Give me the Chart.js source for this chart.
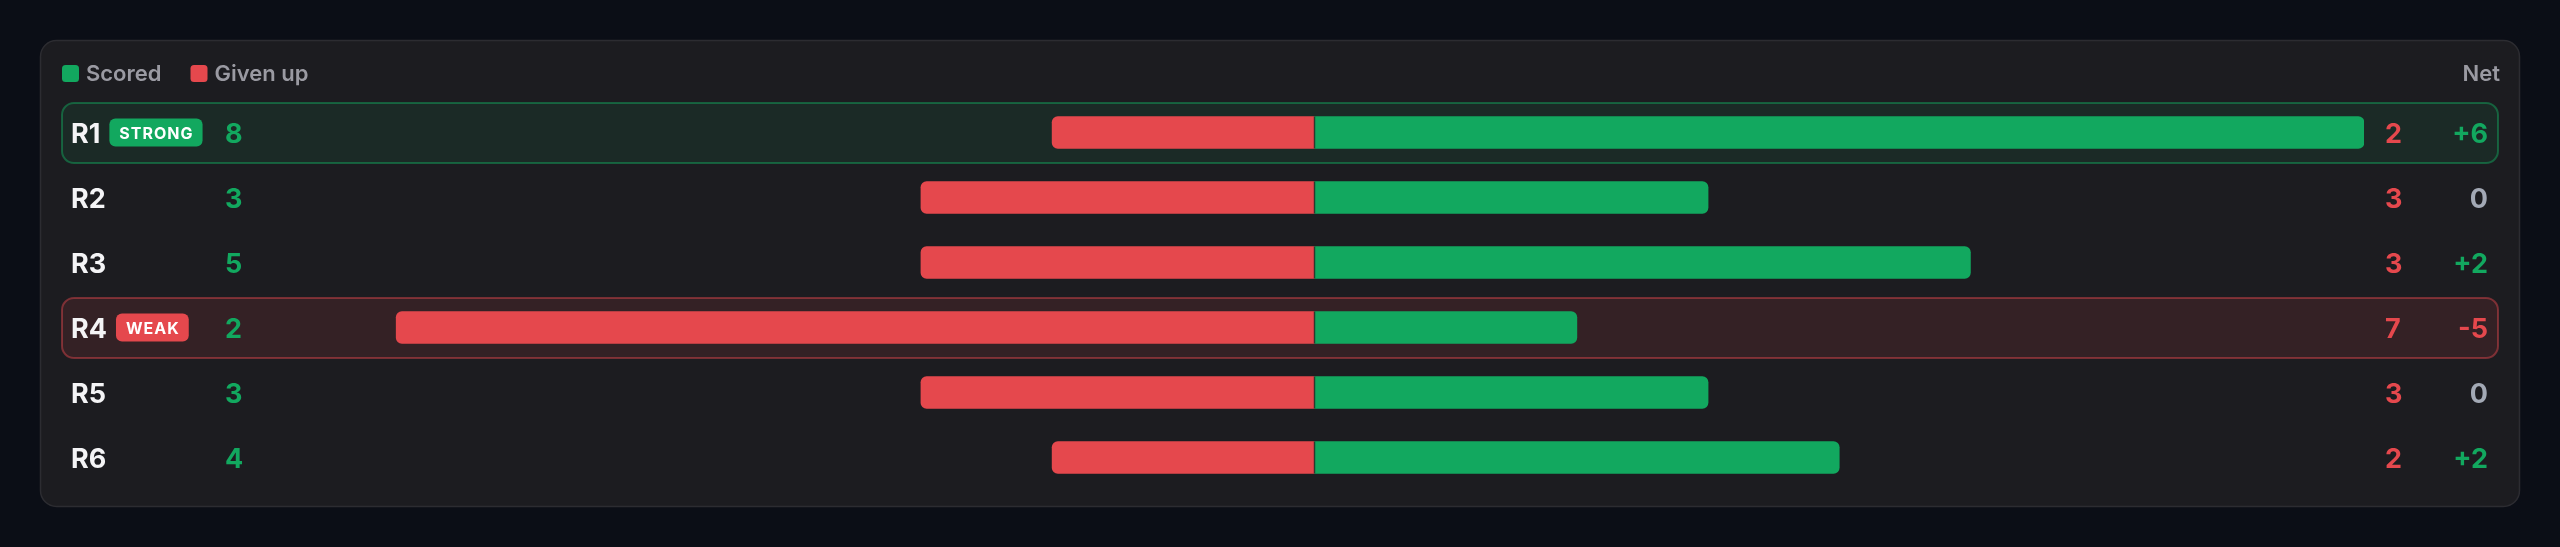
<!DOCTYPE html>
<html><head><meta charset="utf-8">
<script src="https://cdn.jsdelivr.net/npm/chart.js@4.4.1/dist/chart.umd.min.js"></script>
<style>
html,body{margin:0;padding:0;background:#0b0e16;overflow:hidden}
#wrap{width:2560px;height:547px;position:relative}
canvas{display:block}
</style>
</head><body>
<div id="wrap"><canvas id="c" width="2560" height="547"></canvas></div>
<script>
// ---- data ----
const categories = ['R1', 'R2', 'R3', 'R4', 'R5', 'R6'];
const scored = [8, 3, 5, 2, 3, 4];
const givenUp = [2, 3, 3, 7, 3, 2];
const badges = ['STRONG', '', '', 'WEAK', '', ''];
const legendLabels = ['Scored', 'Given up'];
const netHeader = 'Net';

// ---- style ----
const GREEN = '#12a85f';
const RED = '#e5484d';
const GRAY = '#9a9aa2';
const NEUTRAL = '#a3a9b5';
const WHITE = '#f4f4f6';
const FONT = 'Inter, "Noto Sans", sans-serif';

const net = scored.map((s, i) => s - givenUp[i]);
const maxVal = Math.max(...scored, ...givenUp);

function rr(ctx, x, y, w, h, r) {
  ctx.beginPath();
  ctx.roundRect(x, y, w, h, r);
}

const chromePlugin = {
  id: 'chrome',
  beforeDraw(chart) {
    const ctx = chart.ctx;
    const W = chart.width, H = chart.height;
    ctx.save();
    ctx.fillStyle = '#0b0e16';
    ctx.fillRect(0, 0, W, H);
    // card
    rr(ctx, 40.5, 40.5, 2479, 466, 16);
    ctx.fillStyle = '#1c1c20';
    ctx.fill();
    ctx.lineWidth = 1.5;
    ctx.strokeStyle = '#2c2c31';
    ctx.stroke();

    // legend
    ctx.font = '600 22px ' + FONT;
    ctx.textBaseline = 'alphabetic';
    ctx.textAlign = 'left';
    let lx = 62;
    const colors = [GREEN, RED];
    legendLabels.forEach((lab, i) => {
      rr(ctx, lx, 65, 17, 17, 3.5);
      ctx.fillStyle = colors[i];
      ctx.fill();
      ctx.fillStyle = GRAY;
      ctx.fillText(lab, lx + 24, 81);
      lx += 24 + ctx.measureText(lab).width + 29;
    });
    ctx.textAlign = 'right';
    ctx.fillText(netHeader, 2500, 81);

    // highlight boxes
    const ys = chart.scales.y;
    badges.forEach((b, i) => {
      if (!b) return;
      const cy = ys.getPixelForValue(i);
      const good = b === 'STRONG';
      rr(ctx, 62, cy - 29.5, 2436, 60, 12);
      ctx.fillStyle = good ? 'rgba(18,168,95,0.10)' : 'rgba(229,72,77,0.12)';
      ctx.fill();
      ctx.lineWidth = 2;
      ctx.strokeStyle = good ? 'rgba(18,168,95,0.48)' : 'rgba(229,72,77,0.45)';
      ctx.stroke();
    });
    ctx.restore();
  },
  afterDatasetsDraw(chart) {
    const ctx = chart.ctx;
    const ys = chart.scales.y, xs = chart.scales.x;
    const x0 = xs.getPixelForValue(0);
    ctx.save();
    // zero divider across each bar
    ctx.strokeStyle = 'rgba(40,30,32,0.75)';
    ctx.lineWidth = 1.5;
    categories.forEach((c, i) => {
      const cy = ys.getPixelForValue(i);
      ctx.beginPath();
      ctx.moveTo(x0, cy - 16);
      ctx.lineTo(x0, cy + 16);
      ctx.stroke();
    });

    ctx.textBaseline = 'alphabetic';
    categories.forEach((c, i) => {
      const cy = ys.getPixelForValue(i);
      const base = cy + 10;
      // row label
      ctx.font = '700 27px ' + FONT;
      ctx.textAlign = 'left';
      ctx.fillStyle = WHITE;
      ctx.fillText(c, 71, base);
      const lw = ctx.measureText(c).width;
      // badge
      if (badges[i]) {
        const good = badges[i] === 'STRONG';
        ctx.font = '700 16px ' + FONT;
        ctx.letterSpacing = '1px';
        const tw = ctx.measureText(badges[i]).width;
        const bx = 71 + lw + 9;
        rr(ctx, bx, cy - 14, tw + 19, 28, 6);
        ctx.fillStyle = good ? GREEN : RED;
        ctx.fill();
        ctx.fillStyle = '#ffffff';
        ctx.fillText(badges[i], bx + 10, cy + 6);
        ctx.letterSpacing = '0px';
      }
      // values
      ctx.font = '700 27px ' + FONT;
      ctx.textAlign = 'left';
      ctx.fillStyle = GREEN;
      ctx.fillText(String(scored[i]), 225, base);
      ctx.fillStyle = RED;
      ctx.fillText(String(givenUp[i]), 2385, base);
      const n = net[i];
      ctx.textAlign = 'right';
      ctx.fillStyle = n > 0 ? GREEN : (n < 0 ? RED : NEUTRAL);
      ctx.fillText(n > 0 ? '+' + n : String(n), 2488, base);
    });
    ctx.restore();
  }
};

new Chart(document.getElementById('c'), {
  type: 'bar',
  data: {
    labels: categories,
    datasets: [
      { label: legendLabels[0], data: scored, backgroundColor: GREEN, borderRadius: 6, barThickness: 32, borderSkipped: 'start' },
      { label: legendLabels[1], data: givenUp.map(v => -v), backgroundColor: RED, borderRadius: 6, barThickness: 32, borderSkipped: 'start' }
    ]
  },
  options: {
    indexAxis: 'y',
    responsive: false,
    animation: false,
    devicePixelRatio: 1,
    layout: { padding: { left: 265, right: 196, top: 100, bottom: 57 } },
    scales: {
      x: { stacked: true, min: -maxVal, max: maxVal, display: false },
      y: { stacked: true, display: false }
    },
    plugins: { legend: { display: false }, tooltip: { enabled: false } }
  },
  plugins: [chromePlugin]
});
</script>
</body></html>
